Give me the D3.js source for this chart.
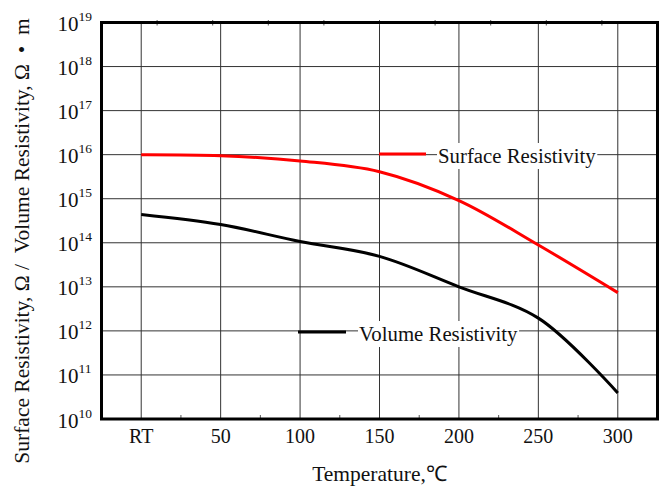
<!DOCTYPE html>
<html>
<head>
<meta charset="utf-8">
<script src="https://cdn.jsdelivr.net/npm/d3@7/dist/d3.min.js"></script>
<style>
  html, body { margin: 0; padding: 0; background: #fff; }
  svg { display: block; }
  text { font-family: "Liberation Serif", "Times New Roman", serif; fill: #111; }
</style>
</head>
<body>
<svg id="chart" width="667" height="488"></svg>
<script>
// ---- data ----
const categories = ["RT", "50", "100", "150", "200", "250", "300"];
const surfaceResistivity = [1.0e16, 9.5e15, 7.2e15, 4.1e15, 9.1e14, 8.9e13, 7.4e12];
const volumeResistivity  = [4.4e14, 2.6e14, 1.07e14, 4.9e13, 1.0e13, 1.95e12, 3.9e10];
const yTickExponents = [10, 11, 12, 13, 14, 15, 16, 17, 18, 19];
const seriesNames = ["Surface Resistivity", "Volume Resistivity"];
const xTitle = "Temperature,\u2103";
const yTitle = "Surface Resistivity, \u03A9 /  Volume Resistivity, \u03A9  \u2022  m";

// ---- layout ----
const svg = d3.select("#chart");
const L = 101.5, R = 657.5, T = 22.5, B = 419;

const x = d3.scalePoint().domain(categories).range([L, R]).padding(0.5);
const y = d3.scaleLog().domain([1e10, 1e19]).range([B, T]);

svg.append("rect").attr("width", 667).attr("height", 488).attr("fill", "#fff");

// grid
const grid = svg.append("g");
grid.selectAll("line.v").data(categories).enter().append("line")
  .attr("x1", d => x(d)).attr("x2", d => x(d))
  .attr("y1", T).attr("y2", B)
  .attr("stroke", "#333").attr("stroke-width", 1);
grid.selectAll("line.h").data(yTickExponents).enter().append("line")
  .attr("x1", L).attr("x2", R)
  .attr("y1", d => y(Math.pow(10, d))).attr("y2", d => y(Math.pow(10, d)))
  .attr("stroke", "#333").attr("stroke-width", 1);

// bottom minor ticks at midpoints
const step = x.step();
grid.selectAll("line.mb").data(categories.slice(0, -1)).enter().append("line")
  .attr("x1", d => x(d) + step / 2).attr("x2", d => x(d) + step / 2)
  .attr("y1", B).attr("y2", B - 4)
  .attr("stroke", "#555").attr("stroke-width", 1);
// top minor ticks (10 divisions)
grid.selectAll("line.mt").data(d3.range(1, 10)).enter().append("line")
  .attr("x1", d => L + (R - L) * d / 10).attr("x2", d => L + (R - L) * d / 10)
  .attr("y1", T - 2.5).attr("y2", T + 3)
  .attr("stroke", "#555").attr("stroke-width", 1);

// lines
const line = d3.line().x((d, i) => x(categories[i])).y(d => y(d)).curve(d3.curveCatmullRom.alpha(0.5));
svg.append("path").datum(surfaceResistivity).attr("d", line)
  .attr("fill", "none").attr("stroke", "#ff0000").attr("stroke-width", 3);
svg.append("path").datum(volumeResistivity).attr("d", line)
  .attr("fill", "none").attr("stroke", "#000").attr("stroke-width", 3);

// legends
const legends = [
  { name: seriesNames[0], color: "#ff0000", x1: 379, x2: 426, ly: 154, tx: 438, ty: 163 },
  { name: seriesNames[1], color: "#000", x1: 298, x2: 346, ly: 332, tx: 359, ty: 341 }
];
legends.forEach(lg => {
  svg.append("line").attr("x1", lg.x1).attr("x2", lg.x2).attr("y1", lg.ly).attr("y2", lg.ly)
    .attr("stroke", lg.color).attr("stroke-width", 3);
  const t = svg.append("text").attr("x", lg.tx).attr("y", lg.ty)
    .attr("font-size", 20.8).text(lg.name);
  const bb = t.node().getBBox();
  svg.insert("rect", () => t.node())
    .attr("x", bb.x - 1).attr("y", bb.y - 1).attr("width", bb.width + 2).attr("height", bb.height + 2)
    .attr("fill", "#fff");
});

// frame
svg.append("rect").attr("x", L).attr("y", T).attr("width", R - L).attr("height", B - T)
  .attr("fill", "none").attr("stroke", "#000").attr("stroke-width", 3);

// x tick labels
svg.selectAll("text.xt").data(categories).enter().append("text")
  .attr("x", d => x(d)).attr("y", 443).attr("text-anchor", "middle")
  .attr("font-size", 20).text(d => d);

// y tick labels
const yl = svg.selectAll("g.yt").data(yTickExponents).enter().append("g");
yl.append("text").attr("x", 78.5).attr("y", d => y(Math.pow(10, d)) + 8.5)
  .attr("text-anchor", "end").attr("font-size", 21).text("10");
yl.append("text").attr("x", 78.5).attr("y", d => y(Math.pow(10, d)) - 1.5)
  .attr("text-anchor", "start").attr("font-size", 13.5).text(d => d);

// axis titles
svg.append("text").attr("x", 379.5).attr("y", 481).attr("text-anchor", "middle")
  .attr("font-size", 21.5).text(xTitle);
svg.append("text").attr("transform", "translate(29,241) rotate(-90)")
  .attr("text-anchor", "middle").attr("font-size", 21.5)
  .style("white-space", "pre").text(yTitle);
</script>
</body>
</html>
